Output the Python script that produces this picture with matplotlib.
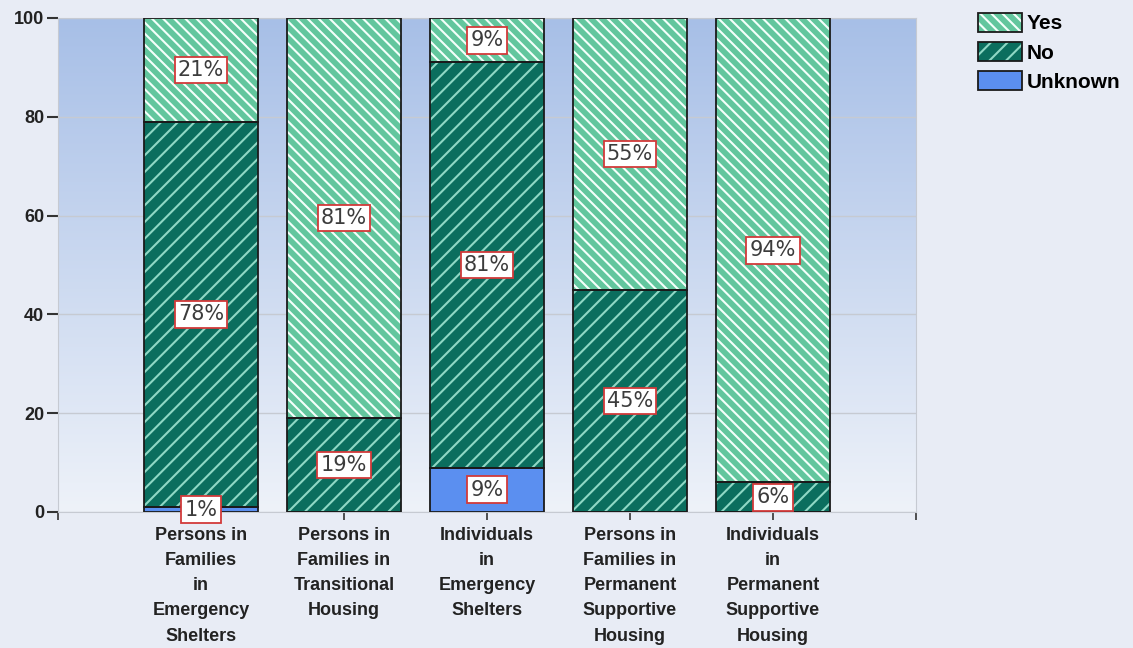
import numpy as np
import matplotlib
matplotlib.use("Agg")
import matplotlib.pyplot as plt
from matplotlib.patches import Patch
from matplotlib.colors import LinearSegmentedColormap

categories = [
    "Persons in\nFamilies\nin\nEmergency\nShelters",
    "Persons in\nFamilies in\nTransitional\nHousing",
    "Individuals\nin\nEmergency\nShelters",
    "Persons in\nFamilies in\nPermanent\nSupportive\nHousing",
    "Individuals\nin\nPermanent\nSupportive\nHousing",
]
unknown = [1, 0, 9, 0, 0]
no = [78, 19, 82, 45, 6]
yes = [21, 81, 9, 55, 94]
unknown_labels = ["1%", None, "9%", None, None]
no_labels = ["78%", "19%", "81%", "45%", "6%"]
yes_labels = ["21%", "81%", "9%", "55%", "94%"]
yticks = [0, 20, 40, 60, 80, 100]

plt.rcParams['hatch.linewidth'] = 1.5

YES_FC, YES_HC = "#62c69d", "#f4fffa"
NO_FC, NO_HC = "#0b6e5e", "#8fd8c5"
UNK_FC = "#5b8ff0"
EDGE = "#1a1a1a"

fig = plt.figure(figsize=(11.33, 6.48), dpi=100, facecolor="#e8ecf5")
ax = fig.add_axes([58/1133, 1 - 512/648, (916-58)/1133, (512-18)/648])

# gradient background
cmap = LinearSegmentedColormap.from_list("bg", ["#eef2f9", "#a7bfe7"])
grad = np.linspace(0, 1, 256).reshape(-1, 1)
ax.imshow(grad, cmap=cmap, aspect="auto", extent=[0, 1, 0, 1],
          transform=ax.transAxes, origin="lower", zorder=0)

x = np.arange(len(categories))
w = 0.8
unk = np.array(unknown, float)
nov = np.array(no, float)
yv = np.array(yes, float)

series = [
    (unk, np.zeros(5), UNK_FC, "", UNK_FC, unknown_labels),
    (nov, unk, NO_FC, "//", NO_HC, no_labels),
    (yv, unk + nov, YES_FC, "\\\\\\", YES_HC, yes_labels),
]
for vals, bottom, fc, hatch, hc, labs in series:
    ax.bar(x, vals, w, bottom=bottom, color=fc, hatch=hatch, edgecolor=hc,
           linewidth=0, zorder=2)
    ax.bar(x, vals, w, bottom=bottom, fill=False, edgecolor=EDGE,
           linewidth=1.3, zorder=3)
    for xi, v, b, lab in zip(x, vals, bottom, labs):
        if lab is None:
            continue
        ax.text(xi, b + v / 2, lab, ha="center", va="center", fontsize=15,
                family="DejaVu Sans", color="#3c3c3c", zorder=5,
                bbox=dict(boxstyle="square,pad=0.16", fc="white",
                          ec="#d23a3a", lw=1.3))

ax.set_xlim(-1, 5)
ax.set_ylim(0, 100)
ax.set_yticks(yticks)
ax.set_yticklabels([str(t) for t in yticks], fontsize=13, fontweight="bold",
                   family="Liberation Sans", color="#222222")
ax.set_xticks(x)
ax.set_xticklabels(categories, fontsize=13, fontweight="bold",
                   family="Liberation Sans", color="#222222", linespacing=1.62)
ax.set_xticks([-1, 5], minor=True)
ax.tick_params(axis="y", length=8, width=1.5, color="#333333", pad=2)
ax.tick_params(axis="x", which="both", length=6, width=1.2, color="#333333", pad=5)
ax.grid(axis="y", color="#c6cad2", linewidth=1, zorder=1)
ax.set_axisbelow(True)
for s in ax.spines.values():
    s.set_color("#c6cad2")

handles = [
    (Patch(fc=YES_FC, hatch="\\\\\\", ec=YES_HC, lw=0),
     Patch(fill=False, ec=EDGE, lw=1.3)),
    (Patch(fc=NO_FC, hatch="//", ec=NO_HC, lw=0),
     Patch(fill=False, ec=EDGE, lw=1.3)),
    (Patch(fc=UNK_FC, ec=EDGE, lw=1.3),),
]
fig.legend(handles, ["Yes", "No", "Unknown"], loc="upper left",
           bbox_to_anchor=(978/1133, 1 - 13/648), frameon=False,
           prop=dict(family="Liberation Sans", weight="bold", size=15),
           handlelength=2.1, handleheight=1.0, labelspacing=0.42,
           handletextpad=0.25, borderaxespad=0, borderpad=0)

fig.savefig("out.png", dpi=100, facecolor=fig.get_facecolor())
